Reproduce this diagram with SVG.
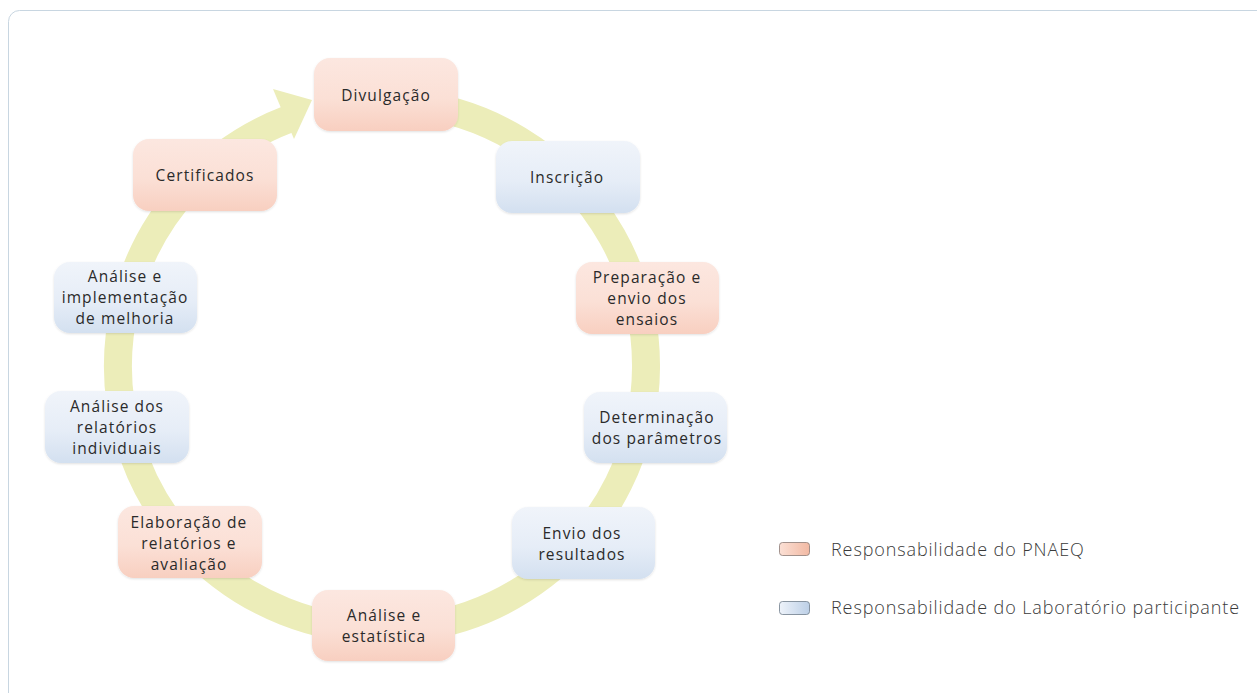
<svg xmlns="http://www.w3.org/2000/svg" width="1257" height="693" viewBox="0 0 1257 693">
<defs>
<linearGradient id="gPink" x1="0" y1="0" x2="0" y2="1">
<stop offset="0" stop-color="#fce7e0"/><stop offset="0.55" stop-color="#fbe0d6"/><stop offset="1" stop-color="#f8cfc0"/>
</linearGradient>
<linearGradient id="gBlue" x1="0" y1="0" x2="0" y2="1">
<stop offset="0" stop-color="#f0f4fa"/><stop offset="0.55" stop-color="#e6edf7"/><stop offset="1" stop-color="#d3e0f0"/>
</linearGradient>
<linearGradient id="lPink" x1="0" y1="0" x2="1" y2="0">
<stop offset="0" stop-color="#fbe0d5"/><stop offset="1" stop-color="#f2b9a3"/>
</linearGradient>
<linearGradient id="lBlue" x1="0" y1="0" x2="1" y2="0">
<stop offset="0" stop-color="#eef3fa"/><stop offset="1" stop-color="#bccfe6"/>
</linearGradient>
<filter id="sh" x="-10%" y="-10%" width="120%" height="130%">
<feDropShadow dx="0" dy="1" stdDeviation="1" flood-color="#000" flood-opacity="0.12"/>
</filter>
</defs>
<style>
.box{filter:url(#sh)}
.pink{fill:url(#gPink)}
.blue{fill:url(#gBlue)}
.t{font-family:"Open Sans","Liberation Sans",sans-serif;font-size:15.5px;fill:#2a2a2a;text-anchor:middle;letter-spacing:1.1px}
.lg{font-family:"Open Sans","Liberation Sans",sans-serif;font-size:18px;font-weight:300;fill:#3a3a3a;letter-spacing:0.9px}
.ring{fill:none;stroke:#ecedb9;stroke-width:28}
</style>
<rect x="8.5" y="10.5" width="1270" height="700" rx="11" fill="#fff" stroke="#c8d6e1" stroke-width="1"/>
<g id="connectors">
<path class="ring" d="M 405 103 A 264 264 0 1 1 287.5 119.5"/>
<polygon points="273,89 312,100 294,139" fill="#ecedb9"/>
</g>
<g id="n1"><rect class="box pink" x="314" y="58" width="144" height="73" rx="16"/><text class="t" x="386" y="101">Divulgação</text></g>
<g id="n2"><rect class="box blue" x="496" y="141" width="144" height="72" rx="16"/><text class="t" x="567" y="183">Inscrição</text></g>
<g id="n3"><rect class="box pink" x="576" y="262" width="143" height="72" rx="16"/><text class="t" x="647" y="283">Preparação e</text><text class="t" x="647" y="304">envio dos</text><text class="t" x="647" y="325">ensaios</text></g>
<g id="n4"><rect class="box blue" x="584" y="392" width="143" height="71" rx="16"/><text class="t" x="657" y="423">Determinação</text><text class="t" x="657" y="444">dos parâmetros</text></g>
<g id="n5"><rect class="box blue" x="512" y="507" width="143" height="72" rx="16"/><text class="t" x="582" y="539">Envio dos</text><text class="t" x="582" y="560">resultados</text></g>
<g id="n6"><rect class="box pink" x="312" y="590" width="143" height="71" rx="16"/><text class="t" x="384" y="621">Análise e</text><text class="t" x="384" y="642">estatística</text></g>
<g id="n7"><rect class="box pink" x="118" y="506" width="144" height="72" rx="16"/><text class="t" x="189" y="528">Elaboração de</text><text class="t" x="189" y="549">relatórios e</text><text class="t" x="189" y="570">avaliação</text></g>
<g id="n8"><rect class="box blue" x="45" y="391" width="144" height="72" rx="16"/><text class="t" x="117" y="412">Análise dos</text><text class="t" x="117" y="433">relatórios</text><text class="t" x="117" y="454">individuais</text></g>
<g id="n9"><rect class="box blue" x="54" y="262" width="143" height="71" rx="16"/><text class="t" x="125" y="282">Análise e</text><text class="t" x="125" y="303">implementação</text><text class="t" x="125" y="324">de melhoria</text></g>
<g id="n10"><rect class="box pink" x="133" y="139" width="144" height="72" rx="16"/><text class="t" x="205" y="181">Certificados</text></g>
<g id="legend">
<rect x="779.5" y="542.5" width="30" height="13" rx="3" fill="url(#lPink)" stroke="#8a7a75" stroke-width="0.8"/>
<text class="lg" x="831" y="556">Responsabilidade do PNAEQ</text>
<rect x="779.5" y="601.5" width="30" height="13" rx="3" fill="url(#lBlue)" stroke="#6f7c8a" stroke-width="0.8"/>
<text class="lg" x="831" y="614">Responsabilidade do Laboratório participante</text>
</g>
</svg>
